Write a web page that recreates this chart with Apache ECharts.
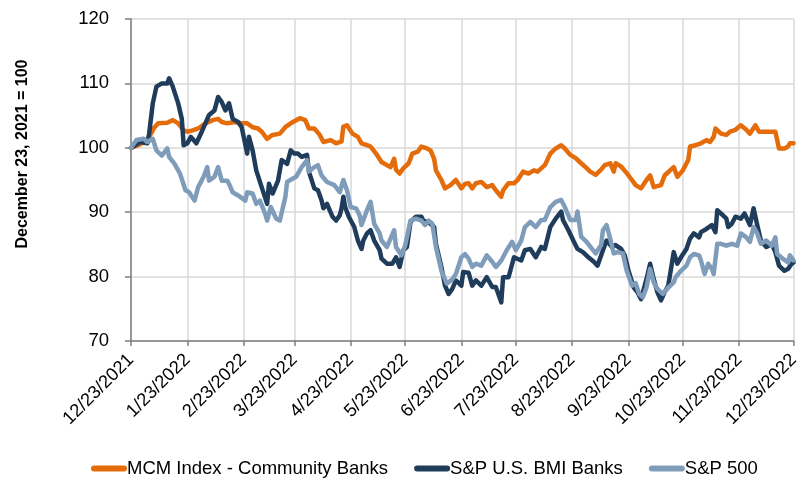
<!DOCTYPE html>
<html>
<head>
<meta charset="utf-8">
<script src="https://cdn.jsdelivr.net/npm/echarts@6/dist/echarts.min.js"></script>
<style>
html,body{margin:0;padding:0;background:#fff;}
#chart{width:802px;height:478px;}
</style>
</head>
<body>
<div id="chart"></div>
<script>
// Series names
const seriesNames = ["MCM Index - Community Banks", "S&P U.S. BMI Banks", "S&P 500"];
// Axis settings
const yMin = 70, yMax = 120, yStep = 10;
const startDate = "12/23/2021", endDate = "12/23/2022";

// MCM Index - Community Banks: [date, index value]
const mcm = [["12/23/2021",100],["12/27/2021",100.4],["1/1/2022",101.2],["1/5/2022",103.2],["1/7/2022",103.8],["1/12/2022",103.9],["1/15/2022",104.3],["1/18/2022",103.8],["1/21/2022",102.7],["1/23/2022",102.5],["1/26/2022",102.7],["1/29/2022",103.0],["2/2/2022",103.8],["2/6/2022",104.3],["2/9/2022",104.5],["2/11/2022",104.0],["2/14/2022",103.8],["2/18/2022",104.0],["2/22/2022",103.8],["2/25/2022",103.8],["2/28/2022",103.2],["3/3/2022",103.0],["3/5/2022",102.5],["3/8/2022",101.4],["3/11/2022",102.0],["3/15/2022",102.2],["3/18/2022",103.2],["3/21/2022",103.8],["3/26/2022",104.6],["3/29/2022",104.3],["3/31/2022",103.0],["4/3/2022",103.0],["4/6/2022",102.0],["4/8/2022",100.9],["4/12/2022",101.2],["4/15/2022",100.7],["4/18/2022",101.0],["4/19/2022",103.3],["4/21/2022",103.5],["4/24/2022",102.2],["4/27/2022",101.7],["4/29/2022",100.7],["5/2/2022",100.4],["5/4/2022",100.2],["5/7/2022",99.1],["5/10/2022",97.8],["5/13/2022",97.3],["5/15/2022",97.0],["5/17/2022",98.3],["5/18/2022",96.6],["5/20/2022",96.0],["5/22/2022",96.8],["5/25/2022",97.6],["5/27/2022",99.1],["5/30/2022",99.4],["6/1/2022",100.2],["6/4/2022",99.9],["6/6/2022",99.6],["6/8/2022",98.3],["6/9/2022",96.5],["6/12/2022",95.0],["6/14/2022",93.7],["6/17/2022",94.2],["6/20/2022",95.0],["6/23/2022",93.7],["6/25/2022",94.4],["6/27/2022",94.5],["6/29/2022",93.7],["7/1/2022",94.5],["7/4/2022",94.7],["7/7/2022",93.9],["7/10/2022",94.2],["7/12/2022",93.4],["7/15/2022",92.4],["7/16/2022",93.4],["7/19/2022",94.5],["7/22/2022",94.5],["7/24/2022",95.0],["7/27/2022",96.3],["7/30/2022",96.0],["8/2/2022",96.5],["8/4/2022",96.3],["8/8/2022",97.3],["8/11/2022",99.1],["8/14/2022",99.9],["8/17/2022",100.4],["8/19/2022",99.9],["8/22/2022",98.9],["8/25/2022",98.4],["8/28/2022",97.6],["8/30/2022",97.1],["9/2/2022",96.3],["9/5/2022",95.8],["9/8/2022",96.6],["9/10/2022",97.3],["9/13/2022",97.6],["9/15/2022",96.3],["9/16/2022",97.6],["9/19/2022",97.1],["9/22/2022",96.1],["9/25/2022",95.0],["9/27/2022",94.2],["9/30/2022",93.7],["10/3/2022",95.0],["10/5/2022",95.7],["10/7/2022",93.9],["10/8/2022",94.2],["10/11/2022",94.2],["10/13/2022",95.7],["10/16/2022",96.5],["10/18/2022",97.0],["10/20/2022",95.5],["10/23/2022",96.5],["10/26/2022",98.1],["10/27/2022",100.2],["10/30/2022",100.4],["11/2/2022",100.7],["11/5/2022",101.2],["11/7/2022",100.9],["11/9/2022",101.7],["11/10/2022",103.0],["11/13/2022",102.2],["11/16/2022",102.0],["11/18/2022",102.5],["11/21/2022",102.8],["11/24/2022",103.5],["11/27/2022",102.8],["11/29/2022",102.2],["12/2/2022",103.5],["12/4/2022",102.5],["12/7/2022",102.5],["12/10/2022",102.5],["12/13/2022",102.5],["12/14/2022",101.2],["12/15/2022",99.9],["12/18/2022",99.9],["12/20/2022",100.2],["12/21/2022",100.7],["12/23/2022",100.7]];

// S&P U.S. BMI Banks: [date, index value]
const bmiBanks = [["12/23/2021",100],["12/28/2021",100.9],["1/1/2022",100.7],["1/2/2022",102.2],["1/4/2022",106.9],["1/6/2022",109.5],["1/9/2022",110.0],["1/12/2022",110.0],["1/13/2022",110.8],["1/15/2022",109.5],["1/18/2022",106.9],["1/20/2022",104.5],["1/21/2022",100.4],["1/23/2022",100.7],["1/25/2022",101.7],["1/28/2022",100.7],["1/31/2022",102.5],["2/2/2022",103.8],["2/4/2022",105.1],["2/7/2022",105.8],["2/9/2022",107.9],["2/11/2022",107.1],["2/13/2022",105.8],["2/15/2022",106.9],["2/17/2022",104.5],["2/20/2022",104.0],["2/22/2022",103.2],["2/25/2022",99.1],["2/26/2022",101.7],["2/28/2022",99.6],["3/2/2022",96.5],["3/5/2022",93.9],["3/8/2022",91.3],["3/9/2022",94.4],["3/11/2022",92.9],["3/14/2022",94.9],["3/16/2022",98.1],["3/19/2022",97.5],["3/21/2022",99.6],["3/23/2022",99.1],["3/25/2022",99.1],["3/27/2022",98.6],["3/30/2022",98.9],["3/31/2022",96.3],["4/3/2022",93.7],["4/5/2022",93.4],["4/7/2022",91.8],["4/8/2022",90.6],["4/10/2022",91.3],["4/13/2022",89.3],["4/15/2022",88.7],["4/17/2022",89.5],["4/18/2022",90.6],["4/19/2022",92.4],["4/20/2022",90.8],["4/22/2022",89.3],["4/25/2022",87.7],["4/27/2022",85.6],["4/29/2022",84.3],["4/30/2022",85.6],["5/2/2022",86.7],["5/4/2022",87.2],["5/6/2022",85.6],["5/9/2022",84.1],["5/10/2022",82.8],["5/13/2022",82.0],["5/16/2022",82.0],["5/18/2022",83.0],["5/20/2022",81.5],["5/22/2022",84.1],["5/24/2022",84.6],["5/26/2022",88.5],["5/29/2022",89.3],["6/1/2022",89.3],["6/2/2022",88.7],["6/4/2022",88.5],["6/6/2022",88.2],["6/8/2022",87.7],["6/9/2022",85.1],["6/12/2022",81.5],["6/14/2022",78.6],["6/16/2022",77.3],["6/18/2022",78.1],["6/20/2022",79.4],["6/23/2022",78.6],["6/24/2022",80.7],["6/27/2022",80.6],["6/29/2022",78.6],["7/1/2022",79.4],["7/4/2022",78.6],["7/7/2022",79.9],["7/10/2022",78.4],["7/12/2022",78.4],["7/15/2022",76.0],["7/16/2022",79.9],["7/19/2022",79.9],["7/22/2022",83.0],["7/23/2022",82.8],["7/26/2022",82.5],["7/28/2022",84.1],["7/31/2022",84.3],["8/3/2022",83.0],["8/6/2022",84.6],["8/8/2022",84.3],["8/11/2022",87.7],["8/14/2022",89.0],["8/17/2022",90.1],["8/18/2022",88.8],["8/21/2022",87.2],["8/24/2022",85.4],["8/26/2022",84.3],["8/29/2022",83.8],["9/1/2022",83.0],["9/4/2022",82.3],["9/6/2022",81.7],["9/9/2022",84.1],["9/11/2022",85.6],["9/14/2022",84.6],["9/16/2022",84.9],["9/19/2022",84.3],["9/21/2022",83.3],["9/23/2022",81.0],["9/26/2022",78.3],["9/28/2022",77.6],["9/30/2022",76.5],["10/3/2022",79.6],["10/5/2022",82.0],["10/7/2022",79.6],["10/9/2022",77.6],["10/11/2022",76.3],["10/13/2022",77.6],["10/15/2022",78.6],["10/18/2022",83.8],["10/20/2022",82.0],["10/22/2022",83.0],["10/25/2022",84.3],["10/27/2022",85.9],["10/29/2022",86.7],["11/1/2022",86.1],["11/2/2022",86.9],["11/5/2022",87.4],["11/8/2022",88.0],["11/10/2022",86.9],["11/11/2022",90.3],["11/13/2022",89.8],["11/16/2022",89.0],["11/17/2022",87.7],["11/19/2022",88.2],["11/21/2022",89.3],["11/24/2022",89.0],["11/26/2022",89.8],["11/27/2022",89.5],["11/29/2022",88.0],["12/1/2022",90.6],["12/3/2022",88.0],["12/5/2022",85.6],["12/8/2022",84.6],["12/9/2022",84.6],["12/11/2022",85.1],["12/13/2022",83.8],["12/15/2022",81.7],["12/18/2022",80.9],["12/20/2022",81.2],["12/22/2022",82.0],["12/23/2022",82.2]];

// S&P 500: [date, index value]
const sp500 = [["12/23/2021",100],["12/26/2021",101.2],["12/30/2021",101.4],["1/1/2022",100.9],["1/4/2022",101.4],["1/6/2022",99.6],["1/9/2022",98.8],["1/12/2022",99.9],["1/13/2022",98.6],["1/16/2022",97.5],["1/19/2022",96.0],["1/22/2022",93.4],["1/24/2022",93.1],["1/27/2022",91.8],["1/29/2022",93.9],["2/1/2022",95.5],["2/3/2022",97.0],["2/4/2022",94.9],["2/7/2022",95.5],["2/9/2022",97.0],["2/11/2022",94.9],["2/14/2022",94.9],["2/15/2022",94.4],["2/17/2022",93.1],["2/20/2022",92.6],["2/24/2022",91.8],["2/25/2022",93.1],["2/28/2022",92.9],["3/2/2022",91.3],["3/4/2022",91.8],["3/7/2022",89.7],["3/8/2022",88.7],["3/10/2022",90.8],["3/13/2022",89.0],["3/15/2022",88.7],["3/18/2022",92.3],["3/19/2022",94.7],["3/22/2022",95.2],["3/24/2022",95.5],["3/27/2022",97.0],["3/30/2022",98.1],["3/31/2022",96.3],["4/3/2022",97.0],["4/5/2022",97.3],["4/7/2022",95.7],["4/10/2022",94.7],["4/11/2022",95.0],["4/14/2022",94.2],["4/17/2022",93.1],["4/19/2022",95.0],["4/21/2022",93.4],["4/23/2022",90.8],["4/26/2022",90.6],["4/28/2022",89.5],["4/29/2022",88.0],["5/2/2022",90.3],["5/4/2022",91.6],["5/6/2022",88.2],["5/9/2022",86.7],["5/10/2022",85.6],["5/13/2022",84.6],["5/15/2022",85.9],["5/17/2022",87.2],["5/18/2022",84.6],["5/21/2022",83.3],["5/23/2022",84.8],["5/26/2022",88.7],["5/29/2022",89.0],["6/1/2022",88.7],["6/3/2022",88.0],["6/5/2022",88.7],["6/7/2022",88.2],["6/9/2022",84.6],["6/12/2022",80.9],["6/15/2022",78.9],["6/18/2022",79.6],["6/20/2022",80.4],["6/23/2022",83.0],["6/25/2022",83.5],["6/27/2022",82.8],["6/29/2022",81.5],["7/1/2022",82.0],["7/4/2022",81.7],["7/7/2022",83.3],["7/10/2022",82.3],["7/12/2022",81.5],["7/15/2022",82.5],["7/18/2022",84.1],["7/21/2022",85.4],["7/23/2022",84.1],["7/26/2022",85.6],["7/28/2022",87.7],["7/31/2022",88.5],["8/3/2022",87.7],["8/6/2022",88.8],["8/8/2022",88.8],["8/11/2022",90.8],["8/14/2022",91.6],["8/17/2022",91.9],["8/19/2022",90.8],["8/22/2022",88.8],["8/25/2022",88.8],["8/26/2022",90.1],["8/28/2022",86.2],["8/31/2022",85.4],["9/3/2022",84.3],["9/5/2022",83.6],["9/8/2022",84.9],["9/9/2022",87.2],["9/11/2022",88.0],["9/13/2022",85.9],["9/15/2022",83.6],["9/17/2022",83.8],["9/20/2022",83.6],["9/22/2022",81.0],["9/25/2022",78.6],["9/27/2022",79.0],["9/29/2022",77.3],["10/1/2022",76.8],["10/3/2022",78.3],["10/5/2022",81.2],["10/7/2022",79.1],["10/9/2022",78.1],["10/12/2022",77.3],["10/15/2022",78.3],["10/18/2022",79.1],["10/19/2022",79.9],["10/22/2022",80.9],["10/25/2022",81.7],["10/27/2022",83.0],["10/29/2022",83.5],["11/1/2022",83.3],["11/2/2022",82.5],["11/4/2022",80.4],["11/6/2022",82.0],["11/8/2022",81.2],["11/9/2022",80.4],["11/11/2022",85.1],["11/13/2022",85.1],["11/16/2022",84.8],["11/19/2022",85.1],["11/22/2022",84.8],["11/24/2022",86.7],["11/27/2022",86.1],["11/29/2022",85.4],["12/1/2022",87.7],["12/3/2022",86.7],["12/5/2022",85.1],["12/8/2022",85.6],["12/11/2022",84.8],["12/13/2022",86.1],["12/14/2022",83.5],["12/17/2022",82.8],["12/20/2022",82.2],["12/21/2022",83.3],["12/23/2022",82.5]];

// ---- build calendar-day categories ----
function parseMDY(s){ const p = s.split('/').map(Number); return Date.UTC(p[2], p[0]-1, p[1]); }
function fmt(t){ const d = new Date(t); return (d.getUTCMonth()+1) + '/' + d.getUTCDate() + '/' + d.getUTCFullYear(); }
const categories = [];
for (let t = parseMDY(startDate); t <= parseMDY(endDate); t += 86400000) categories.push(fmt(t));
const idx = {}; categories.forEach((c, i) => idx[c] = i);
const tickDay = categories[0].split('/')[1];
const isTick = (i, v) => v.split('/')[1] === tickDay;
const toData = arr => arr.filter(p => idx[p[0]] !== undefined).map(p => [idx[p[0]], p[1]]);

const colors = ['#E46C0A', '#1F3D5B', '#7F9DBA'];
const font = 'Liberation Sans, Arial, sans-serif';

const chart = echarts.init(document.getElementById('chart'), null, {renderer: 'canvas'});
chart.setOption({
  animation: false,
  color: colors,
  grid: {left: 131, right: 6, top: 19, bottom: 137, containLabel: false},
  legend: {
    data: seriesNames,
    left: 86, top: 454,
    itemWidth: 36, itemHeight: 6, itemGap: 26,
    icon: 'path://M3,0 L33,0 A3,3 0 0 1 33,6 L3,6 A3,3 0 0 1 3,0 Z',
    textStyle: {fontFamily: font, fontSize: 18.5, color: '#000', padding: [0,0,0,-5]}
  },
  xAxis: {
    type: 'category', data: categories, boundaryGap: false,
    axisLine: {lineStyle: {color: '#7f7f7f', width: 1.5}},
    axisTick: {interval: isTick, length: 5, lineStyle: {color: '#7f7f7f', width: 1.5}},
    axisLabel: {interval: isTick, rotate: 45, margin: 16, fontFamily: font, fontSize: 18.3, color: '#000'},
    splitLine: {show: true, interval: isTick, lineStyle: {color: '#d9d9d9', width: 1.5}}
  },
  yAxis: {
    type: 'value', min: yMin, max: yMax, interval: yStep,
    name: 'December 23, 2021 = 100', nameLocation: 'middle', nameRotate: 90, nameGap: 100,
    nameTextStyle: {fontFamily: font, fontSize: 16, fontWeight: 'bold', color: '#000', padding: [0,0,0,52]},
    axisLine: {show: true, lineStyle: {color: '#7f7f7f', width: 1.5}},
    axisTick: {show: true, length: 6, lineStyle: {color: '#7f7f7f', width: 1.5}},
    axisLabel: {margin: 22, fontFamily: font, fontSize: 18.5, color: '#000'},
    splitLine: {show: true, lineStyle: {color: '#d9d9d9', width: 1.5}}
  },
  series: [
    {name: seriesNames[0], type: 'line', data: toData(mcm), showSymbol: false, symbol: 'none', lineStyle: {width: 4.5, cap: 'round', join: 'round'}},
    {name: seriesNames[1], type: 'line', data: toData(bmiBanks), showSymbol: false, symbol: 'none', lineStyle: {width: 4.5, cap: 'round', join: 'round'}},
    {name: seriesNames[2], type: 'line', data: toData(sp500), showSymbol: false, symbol: 'none', lineStyle: {width: 4.5, cap: 'round', join: 'round'}}
  ]
});
</script>
</body>
</html>
